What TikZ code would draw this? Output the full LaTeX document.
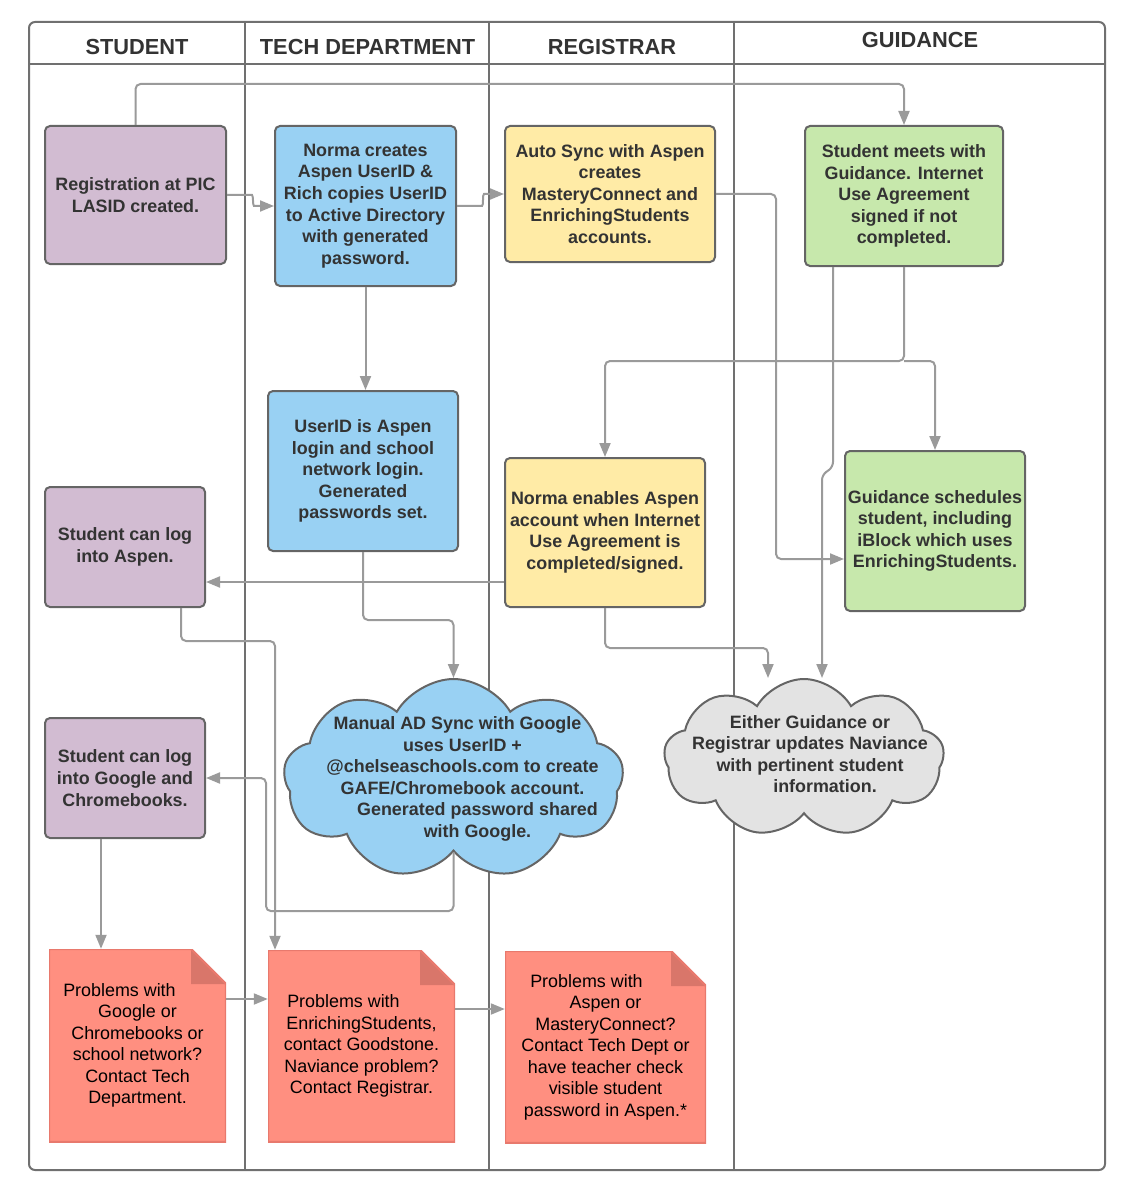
\documentclass[tikz,border=0pt]{standalone}
\usepackage{fontspec}
\setmainfont{Liberation Sans}
\usepackage{tikz}
\usetikzlibrary{shapes.symbols}
\usetikzlibrary{arrows.meta}
\definecolor{laneline}{HTML}{707070}
\definecolor{boxline}{HTML}{656565}
\definecolor{textdark}{HTML}{333333}
\definecolor{flowgray}{HTML}{9A9A9A}
\definecolor{purplebox}{HTML}{D2BCD2}
\definecolor{bluebox}{HTML}{99D1F3}
\definecolor{yellowbox}{HTML}{FFEBA6}
\definecolor{greenbox}{HTML}{C7E8AC}
\definecolor{graycloud}{HTML}{E3E3E3}
\definecolor{notered}{HTML}{FF8F80}
\definecolor{notefold}{HTML}{D9766A}
\definecolor{noteline}{HTML}{E8796D}
\newcommand*{\foldSize}{35pt}
\tikzset{
	lane/.style={draw=laneline,line width=2pt},
	lanetitle/.style={font=\bfseries\fontsize{21.8}{25}\selectfont,text=textdark},
	boxsize/.style 2 args={minimum width=#1pt,minimum height=#2pt},
	box/.style={rectangle,rounded corners=5pt,draw=boxline,line width=2pt,inner sep=0pt,
		align=center,text=textdark,font=\bfseries\fontsize{17.9}{21.6}\selectfont},
	student/.style={box,fill=purplebox},
	tech/.style={box,fill=bluebox},
	registrar/.style={box,fill=yellowbox},
	guidance/.style={box,fill=greenbox},
	cloudshape/.style={cloud,cloud puffs=9,cloud puff arc=120,cloud ignores aspect,
		draw=boxline,line width=2pt,inner sep=0pt},
	cloudtext/.style={align=center,text=textdark,inner sep=0pt,
		font=\bfseries\fontsize{17.9}{21.6}\selectfont},
	note/.style={rectangle,fill=notered,inner sep=0pt,align=center,text=black,
		font=\fontsize{17.9}{21.5}\selectfont,
		path picture={
			\fill[white] (path picture bounding box.north east) -- ++(-\foldSize,0) -- ++(\foldSize,-\foldSize) -- cycle;
			\fill[notefold] ([xshift=-\foldSize]path picture bounding box.north east) -- ++(\foldSize,-\foldSize) -- ++(-\foldSize,0) -- cycle;
			\draw[noteline,line width=2.4pt] (path picture bounding box.south west) -- (path picture bounding box.north west)
				-- ([xshift=-\foldSize]path picture bounding box.north east) -- ([yshift=-\foldSize]path picture bounding box.north east)
				-- (path picture bounding box.south east) -- cycle;
		}},
	flow/.style={draw=flowgray,line width=2pt,rounded corners=5pt,-{Triangle[length=14pt,width=11pt]}}
}
\begin{document}
\begin{tikzpicture}[x=1pt,y=-1pt]
	\useasboundingbox (0,0) rectangle (1126,1198);
	% swim lanes
	\draw[lane,rounded corners=6pt] (29,22) rectangle (1105,1170);
	\draw[lane] (29,64) -- (1105,64);
	\foreach \x in {245,489,734}
		\draw[lane] (\x,22) -- (\x,1170);
	\node[lanetitle] (hstudent) at (137,47) {STUDENT};
	\node[lanetitle] (htech) at (367.5,47) {TECH DEPARTMENT};
	\node[lanetitle] (hregistrar) at (612,47) {REGISTRAR};
	\node[lanetitle] (hguidance) at (920,40) {GUIDANCE};

	% steps
	\node[student,boxsize={181}{138}] (reg) at (135.5,195) {Registration at PIC\\LASID created.};
	\node[tech,boxsize={181}{160}] (norma) at (365.5,206) {Norma creates\\Aspen UserID \&\\Rich copies UserID\\to Active Directory\\with generated\\password.};
	\node[registrar,boxsize={210}{136}] (autosync) at (610,194) {Auto Sync with Aspen\\creates\\MasteryConnect and\\EnrichingStudents\\accounts.};
	\node[guidance,boxsize={198}{140}] (meets) at (904,196) {Student meets with\\Guidance. Internet\\Use Agreement\\signed if not\\completed.};
	\node[tech,boxsize={190}{160}] (userid) at (363,471) {UserID is Aspen\\login and school\\network login.\\Generated\\passwords set.};
	\node[student,boxsize={160}{120}] (logaspen) at (125,547) {Student can log\\into Aspen.};
	\node[registrar,boxsize={200}{149}] (enable) at (605,532.5) {Norma enables Aspen\\account when Internet\\Use Agreement is\\completed/signed.};
	\node[guidance,boxsize={180}{160}] (sched) at (935,531) {Guidance schedules\\student, including\\iBlock which uses\\EnrichingStudents.};
	\node[student,boxsize={160}{120}] (loggoogle) at (125,778) {Student can log\\into Google and\\Chromebooks.};

	\node[cloudshape,fill=bluebox,boxsize={340}{200}] (adsync) at (453.5,779) {};
	\node[cloudtext] (adsynctext) at ([xshift=9pt]adsync.center) {Manual AD Sync with Google\hspace*{10pt}\\uses UserID +\hspace*{-20pt}\\@chelseaschools.com to create\hspace*{10pt}\\GAFE/Chromebook account.\hspace*{20pt}\\\hspace*{30pt}Generated password shared\\\hspace*{30pt}with Google.};
	\node[cloudshape,fill=graycloud,boxsize={280}{158}] (naviance) at (804,758) {};
	\node[cloudtext] (naviancetext) at ([xshift=6pt,yshift=4pt]naviance.center) {Either Guidance or\\Registrar updates Naviance\\with pertinent student\hspace*{10pt}\\\hspace*{30pt}information.};

	% problems
	\node[note,boxsize={177}{193}] (probgoogle) at (137.5,1045.5) {Problems with\hspace*{36pt}\\Google or\\Chromebooks or\\school network?\\Contact Tech\\Department.};
	\node[note,boxsize={187}{192}] (probenrich) at (361.5,1046) {Problems with\hspace*{36pt}\\EnrichingStudents,\\contact Goodstone.\\Naviance problem?\\Contact Registrar.};
	\node[note,boxsize={201}{192}] (probaspen) at (605.5,1047) {Problems with\hspace*{38pt}\\Aspen or\hspace*{38pt}\\MasteryConnect?\\Contact Tech Dept or\\have teacher check\\visible student\\password in Aspen.*};

	% connectors
	\draw[flow] (reg.north) -- ++(0,-41) -| (meets.north);
	\draw[flow] (reg.east) -- ++(20,0) to[out=0,in=180] ++(12,11) -- (norma.west);
	\draw[flow] (norma.east) -- ++(20,0) to[out=0,in=180] ++(12,-12) -- (autosync.west);
	\draw[flow] (norma.south) -- (norma.south |- userid.north);
	\draw[flow] (autosync.east) -- ++(60,0) |- ([yshift=-28pt]sched.west);
	\draw[flow] (meets.south) -- ++(0,94) coordinate (split) -| (enable.north);
	\draw[flow] (split) -| (sched.north);
	\draw[flow] ([xshift=-71pt]meets.south) -- ++(0,200) -- ++(-11,8) -- ([xshift=18pt]naviance.north);
	\draw[flow] ([yshift=-49.5pt]enable.west) -- ([yshift=-35pt]logaspen.east);
	\draw[flow] (userid.south) -- ++(0,68) -| (adsync.north);
	\draw[flow] (enable.south) -- ++(0,40) -| ([xshift=-36pt]naviance.north);
	\draw[flow] ([xshift=56pt]logaspen.south) -- ++(0,33) -| ([xshift=-86.5pt]probenrich.north);
	\draw[flow] (adsync.south) -- ++(0,59) -| ([xshift=60pt]loggoogle.east) -- (loggoogle.east);
	\draw[flow] ([xshift=-24pt]loggoogle.south) -- ([xshift=-36.5pt]probgoogle.north);
	\draw[flow] ([yshift=46.5pt]probgoogle.east) -- ([yshift=47pt]probenrich.west);
	\draw[flow] ([yshift=37pt]probenrich.east) -- ([yshift=38pt]probaspen.west);
\end{tikzpicture}
\end{document}
